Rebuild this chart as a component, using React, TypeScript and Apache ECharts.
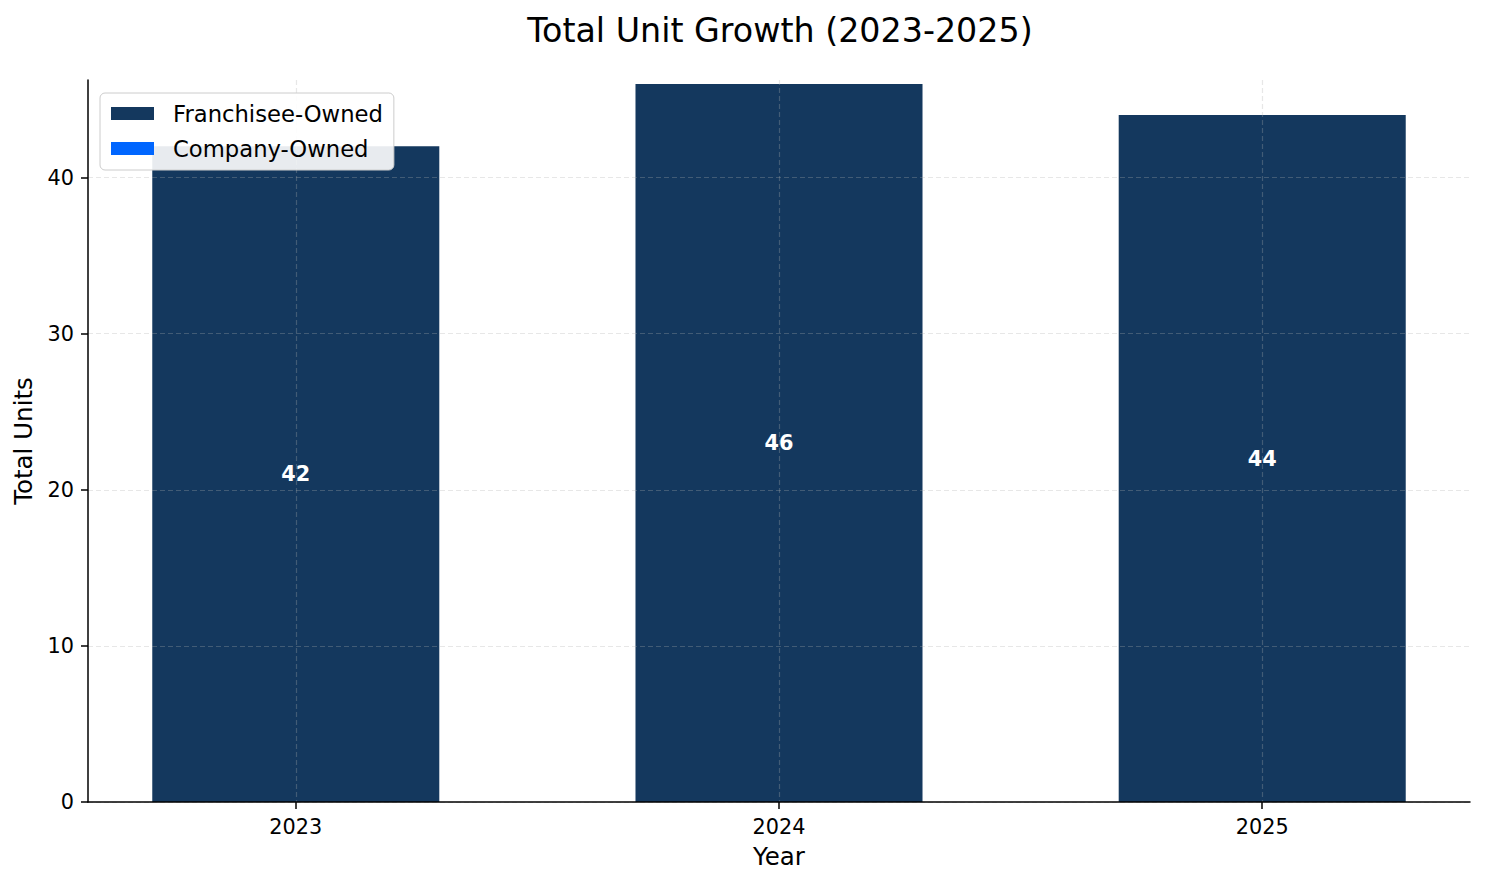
import { useEffect, useRef } from "react";
import * as echarts from "echarts";

// Unit counts per year
const years = ["2023", "2024", "2025"];
const franchiseeOwned = [42, 46, 44];
const companyOwned = [0, 0, 0];
const yTicks = [0, 10, 20, 30, 40];

const FONT = "DejaVu Sans";
const GRID_LINE = { show: true, lineStyle: { color: "rgba(176,176,176,0.3)", type: [5, 3] as number[], width: 1.2 } };

export default function App() {
  const ref = useRef<HTMLDivElement>(null);

  useEffect(() => {
    if (!ref.current) return;
    const chart = echarts.init(ref.current, undefined, { renderer: "svg" });
    const xIdx = years.map((_, i) => i);

    chart.setOption({
      animation: false,
      backgroundColor: "#ffffff",
      textStyle: { fontFamily: FONT, color: "#000" },
      title: {
        text: "Total Unit Growth (2023-2025)",
        left: 775,
        textAlign: "center",
        top: 9,
        textStyle: { fontFamily: FONT, fontSize: 33.3, fontWeight: "normal", color: "#000" },
      },
      legend: {
        orient: "vertical",
        left: 100,
        top: 93,
        z: 10,
        padding: [9, 11, 10, 11],
        itemGap: 12,
        itemWidth: 43,
        itemHeight: 13,
        icon: "rect",
        backgroundColor: "rgba(255,255,255,0.9)",
        borderColor: "#cccccc",
        borderWidth: 1,
        borderRadius: 5,
        textStyle: { fontFamily: FONT, fontSize: 22.7, color: "#000", padding: [0, 0, 0, 14] },
        data: ["Franchisee-Owned", "Company-Owned"],
      },
      grid: { left: 88, right: 15, top: 80, bottom: 82 },
      xAxis: {
        type: "value",
        min: -0.43,
        max: 2.43,
        z: 5,
        name: "Year",
        nameLocation: "middle",
        nameGap: 42,
        nameTextStyle: { fontFamily: FONT, fontSize: 24.5, color: "#000" },
        axisLine: { show: true, onZero: false, lineStyle: { color: "#000", width: 1.5 } },
        axisTick: { show: true, length: 7, customValues: xIdx, lineStyle: { color: "#000", width: 1.5 } },
        axisLabel: {
          customValues: xIdx,
          margin: 14,
          fontFamily: FONT,
          fontSize: 20.8,
          color: "#000",
          formatter: (v: number) => years[Math.round(v)] ?? "",
        },
        splitLine: GRID_LINE,
      },
      yAxis: {
        type: "value",
        min: 0,
        max: 46.25,
        z: 5,
        name: "Total Units",
        nameLocation: "middle",
        nameGap: 52,
        nameTextStyle: { fontFamily: FONT, fontSize: 24.5, color: "#000" },
        axisLine: { show: true, onZero: false, lineStyle: { color: "#000", width: 1.5 } },
        axisTick: { show: true, length: 7, customValues: yTicks, lineStyle: { color: "#000", width: 1.5 } },
        axisLabel: { customValues: yTicks, margin: 14, fontFamily: FONT, fontSize: 20.8, color: "#000" },
        splitLine: GRID_LINE,
      },
      series: [
        {
          name: "Franchisee-Owned",
          type: "bar",
          stack: "total",
          barWidth: "59.4%",
          silent: true,
          itemStyle: { color: "#14385E" },
          label: {
            show: true,
            position: "inside",
            color: "#ffffff",
            fontFamily: FONT,
            fontSize: 20.8,
            fontWeight: "bold",
            formatter: (p: any) => String(p.value[1]),
          },
          data: franchiseeOwned.map((v, i) => [i, v]),
        },
        {
          name: "Company-Owned",
          type: "bar",
          stack: "total",
          barWidth: "59.4%",
          silent: true,
          itemStyle: { color: "#0066FF" },
          data: companyOwned.map((v, i) => [i, v]),
        },
      ],
    });

    return () => chart.dispose();
  }, []);

  return <div ref={ref} style={{ position: "fixed", left: 0, top: 0, width: 1485, height: 884 }} />;
}
